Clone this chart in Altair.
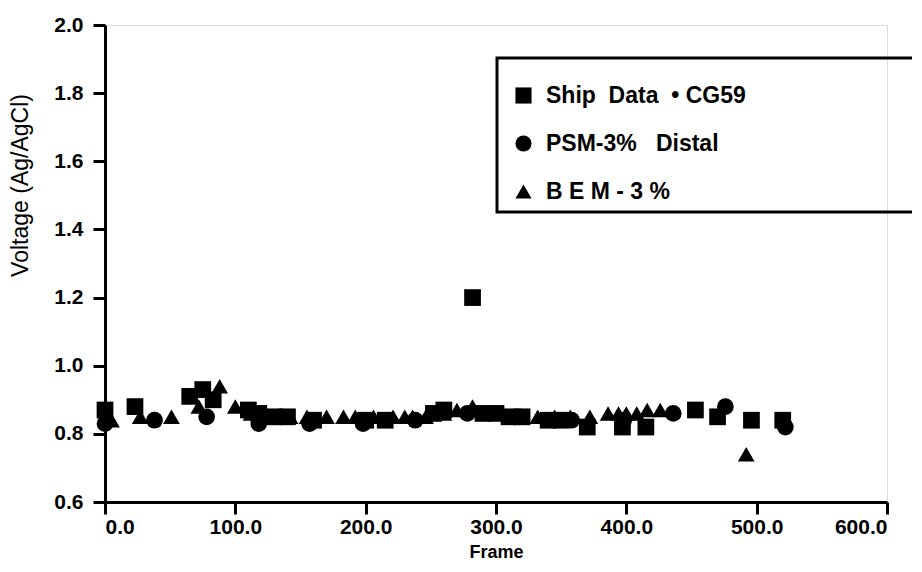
import altair as alt
import pandas as pd

# ---- data ----
ship_frame = [0, 23, 65, 75, 83, 110, 118, 130, 140, 160, 200, 215, 252, 260, 282, 290,
              300, 310, 320, 340, 350, 370, 397, 415, 453, 470, 496, 520]
ship_volt = [0.87, 0.88, 0.91, 0.93, 0.90, 0.87, 0.86, 0.85, 0.85, 0.84, 0.84, 0.84, 0.86, 0.87, 1.20, 0.86,
             0.86, 0.85, 0.85, 0.84, 0.84, 0.82, 0.82, 0.82, 0.87, 0.85, 0.84, 0.84]

psm_frame = [0, 38, 78, 118, 157, 198, 238, 278, 318, 358, 398, 436, 476, 522]
psm_volt = [0.83, 0.84, 0.85, 0.83, 0.83, 0.83, 0.84, 0.86, 0.85, 0.84, 0.84, 0.86, 0.88, 0.82]

bem_frame = [5, 27, 51, 72, 88, 100, 112, 125, 142, 155, 170, 183, 192, 206, 221, 230, 236, 246,
             260, 270, 282, 295, 310, 320, 332, 345, 357, 372, 386, 394, 400, 408, 416, 426, 492]
bem_volt = [0.84, 0.85, 0.85, 0.88, 0.94, 0.88, 0.86, 0.85, 0.85, 0.85, 0.85, 0.85, 0.85, 0.85, 0.85, 0.85, 0.85, 0.85,
            0.86, 0.87, 0.88, 0.86, 0.85, 0.85, 0.85, 0.85, 0.85, 0.85, 0.86, 0.86, 0.86, 0.86, 0.87, 0.87, 0.74]

NB = "\u00a0"
series_names = [f"Ship{NB}{NB}Data{NB}{NB}•{NB}CG59",
                f"{NB}PSM-3%{NB}{NB}{NB}Distal",
                f"B{NB}E{NB}M{NB}-{NB}3{NB}%"]
series_shapes = ["square", "circle", "triangle-up"]

x_ticks = [0, 100, 200, 300, 400, 500, 600]
y_ticks = [0.6, 0.8, 1.0, 1.2, 1.4, 1.6, 1.8, 2.0]

rows = []
for name, fr, vo in zip(series_names, [ship_frame, psm_frame, bem_frame], [ship_volt, psm_volt, bem_volt]):
    for f, v in zip(fr, vo):
        rows.append({"Frame": f, "Voltage": v, "Series": name})
df = pd.DataFrame(rows)

W, H = 782, 477

points = alt.Chart(df).mark_point(filled=True, opacity=1, color="black", size=280).encode(
    x=alt.X("Frame:Q", scale=alt.Scale(domain=[0, 600], nice=False, zero=False),
            axis=alt.Axis(values=x_ticks, format=".1f", title="Frame",
                          labelFont="Liberation Sans Narrow, Liberation Sans", labelFontWeight="bold",
                          labelFontSize=21, labelPadding=2, tickSize=12, tickWidth=3, tickColor="black",
                          domainWidth=3, domainColor="black", labelColor="black",
                          titleFont="Liberation Sans", titleFontWeight="bold", titleFontSize=18,
                          titleColor="black", titleY=50, titleBaseline="middle", grid=False)),
    y=alt.Y("Voltage:Q", scale=alt.Scale(domain=[0.6, 2.0], nice=False, zero=False),
            axis=alt.Axis(values=y_ticks, format=".1f", title="Voltage (Ag/AgCl)",
                          labelFont="Liberation Sans", labelFontWeight="bold", labelFontSize=21,
                          labelPadding=10, tickSize=12, tickWidth=3, tickColor="black",
                          domainWidth=3, domainColor="black", labelColor="black",
                          titleFont="Liberation Sans", titleFontWeight="normal", titleFontSize=23,
                          titleColor="black", titleAngle=270, titleX=-85, titleY=160,
                          titleAlign="center", titleBaseline="middle", grid=False)),
    shape=alt.Shape("Series:N", scale=alt.Scale(domain=series_names, range=series_shapes),
                    legend=alt.Legend(title=None, orient="none", legendX=407, legendY=59,
                                      labelFont="Liberation Sans", labelFontWeight="bold",
                                      labelFontSize=23, labelColor="black", labelOffset=11,
                                      rowPadding=24, symbolSize=260, symbolFillColor="black",
                                      symbolStrokeColor="black", symbolStrokeWidth=0,
                                      labelLimit=400, padding=0)),
)

box = alt.Chart(pd.DataFrame({"k": [0]})).mark_rect(filled=False, stroke="black", strokeWidth=3).encode(
    x=alt.value(392), x2=alt.value(812), y=alt.value(33), y2=alt.value(187)
)

chart = alt.layer(box, points).properties(
    width=W, height=H,
    autosize=alt.AutoSizeParams(type="none"),
    padding={"left": 97, "top": 17, "right": 25, "bottom": 62},
).configure_view(stroke=None).configure(background="white")

chart.save("out.html", embed_options={"renderer": "svg", "actions": False})
